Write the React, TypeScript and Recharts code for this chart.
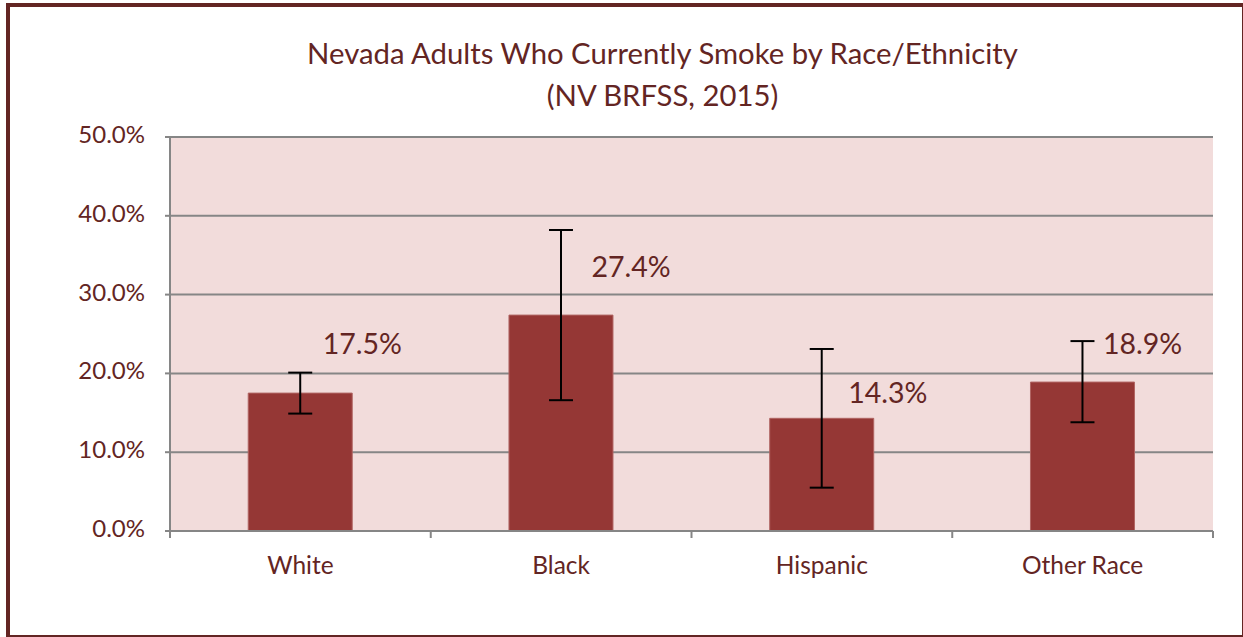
import { Bar, BarChart, CartesianGrid, ErrorBar, LabelList, XAxis, YAxis } from 'recharts'

const categories = ['White', 'Black', 'Hispanic', 'Other Race']
const smokePct = [17.5, 27.4, 14.3, 18.9]
const ciLow = [14.9, 16.6, 5.5, 13.8]
const ciHigh = [20.1, 38.2, 23.1, 24.1]
const yTicks = [0, 10, 20, 30, 40, 50]

// label nudges (px) to mimic the hand-placed data labels of the original
const labelDx = [62, 70, 66, 60]
const labelDy = [-46, -45, -23, -35]

const DARK_RED = '#632523'
const BAR_FILL = '#953735'
const PLOT_BG = '#F2DCDB'
const GRID = '#868686'
const FONT = 'Lato, "Open Sans", sans-serif'

const data = categories.map((name, i) => ({
  name,
  value: smokePct[i],
  err: [+(smokePct[i] - ciLow[i]).toFixed(1), +(ciHigh[i] - smokePct[i]).toFixed(1)],
}))

// category label plus the between-category tick marks (Excel style)
function XTick({ x, y, payload, index }: any) {
  const half = payload?.offset ?? 0
  const axisY = y - 8
  return (
    <g>
      {half > 0 && <line x1={x - half} x2={x - half} y1={axisY} y2={axisY + 7} stroke={GRID} strokeWidth={2} />}
      {half > 0 && index === categories.length - 1 && (
        <line x1={x + half} x2={x + half} y1={axisY} y2={axisY + 7} stroke={GRID} strokeWidth={2} />
      )}
      <text x={x} y={y + 29} textAnchor="middle" dominantBaseline="middle" fill={DARK_RED} fontSize={24.5} fontFamily={FONT}>
        {payload.value}
      </text>
    </g>
  )
}

function YTick({ x, y, payload }: any) {
  return (
    <text x={x - 18} y={y} textAnchor="end" dominantBaseline="middle" fill={DARK_RED} fontSize={24} fontFamily={FONT}>
      {Number(payload.value).toFixed(1) + '%'}
    </text>
  )
}

function ValueLabel({ x, y, width, value, index }: any) {
  return (
    <text
      x={x + width / 2 + labelDx[index]}
      y={y + labelDy[index]}
      textAnchor="middle"
      dominantBaseline="middle"
      fill={DARK_RED}
      fontSize={28.5}
      fontFamily={FONT}
    >
      {Number(value).toFixed(1) + '%'}
    </text>
  )
}

export default function App() {
  return (
    <div style={{ position: 'absolute', left: 0, top: 0, width: 1243, height: 637, background: '#fff', overflow: 'hidden' }}>
      <div
        style={{
          position: 'absolute',
          left: 6,
          top: 3,
          width: 1240,
          height: 636,
          border: `4px solid ${DARK_RED}`,
          boxSizing: 'border-box',
        }}
      />
      <div
        style={{
          position: 'absolute',
          left: 0,
          width: 1325,
          top: 32,
          textAlign: 'center',
          color: DARK_RED,
          fontFamily: FONT,
          fontSize: 29.3,
          lineHeight: '42px',
        }}
      >
        <div>Nevada Adults Who Currently Smoke by Race/Ethnicity</div>
        <div>(NV BRFSS, 2015)</div>
      </div>
      <div style={{ position: 'absolute', left: 0, top: 0 }}>
        <BarChart
          width={1243}
          height={637}
          data={data}
          margin={{ top: 137, right: 30, bottom: 76, left: 0 }}
          barCategoryGap="30%"
        >
          <CartesianGrid fill={PLOT_BG} vertical={false} stroke={GRID} strokeWidth={2} />
          <XAxis
            dataKey="name"
            axisLine={{ stroke: GRID, strokeWidth: 2 }}
            tickLine={false}
            tickSize={0}
            tickMargin={8}
            tick={<XTick />}
            interval={0}
            height={30}
          />
          <YAxis
            width={170}
            domain={[0, 50]}
            ticks={yTicks}
            axisLine={{ stroke: GRID, strokeWidth: 2 }}
            tickLine={{ stroke: GRID, strokeWidth: 2 }}
            tickSize={5}
            tick={<YTick />}
          />
          <Bar dataKey="value" fill={BAR_FILL} stroke="#B06462" strokeWidth={1} isAnimationActive={false}>
            <ErrorBar dataKey="err" width={12} stroke="#000" strokeWidth={2} direction="y" />
            <LabelList dataKey="value" content={<ValueLabel />} />
          </Bar>
        </BarChart>
      </div>
    </div>
  )
}
